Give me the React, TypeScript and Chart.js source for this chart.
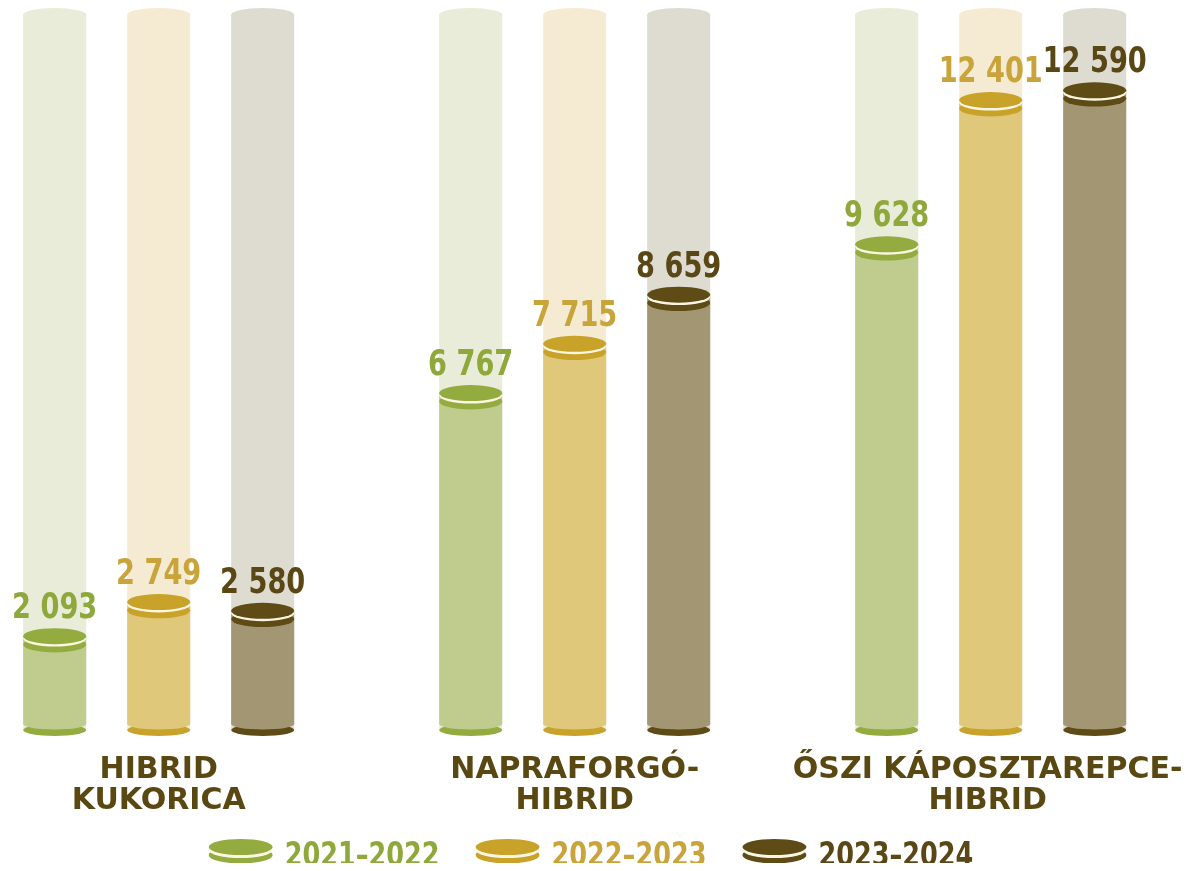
import React, { useEffect, useRef } from 'react';
import { Chart, registerables } from 'chart.js';

Chart.register(...registerables);

// ---------- data ----------
const categories: string[][] = [
  ['HIBRID', 'KUKORICA'],
  ['NAPRAFORGÓ-', 'HIBRID'],
  ['ŐSZI KÁPOSZTAREPCE-', 'HIBRID'],
];
const seasons = ['2021–2022', '2022–2023', '2023–2024'];
const values2122 = [2093, 6767, 9628];
const values2223 = [2749, 7715, 12401];
const values2324 = [2580, 8659, 12590];
const Y_MIN = 288;
const Y_MAX = 14038;

// ---------- styles ----------
const topColors = ['#94ab3f', '#c9a22a', '#5e4b16'];
const bodyColors = ['#bfcc8e', '#e0c87b', '#a39673'];
const bgColors = ['#e8ecd9', '#f4ebd2', '#dedbd0'];
const textColors = ['#8fa83c', '#c9a43a', '#5a4716'];
const creamColor = '#fbf6e2';
const catColor = '#5a4812';
const COND = '"DejaVu Sans Condensed", "DejaVu Sans", sans-serif';
const WIDE = '"DejaVu Sans", sans-serif';

const fmt = (v: number) => String(v).replace(/\B(?=(\d{3})+(?!\d))/g, ' ');

function ellipse(ctx: CanvasRenderingContext2D, cx: number, cy: number, rx: number, ry: number, color: string) {
  ctx.beginPath();
  ctx.ellipse(cx, cy, rx, ry, 0, 0, Math.PI * 2);
  ctx.fillStyle = color;
  ctx.fill();
}

function scaledText(ctx: CanvasRenderingContext2D, text: string, x: number, y: number, sx: number) {
  ctx.save();
  ctx.translate(x, y);
  ctx.scale(sx, 1);
  ctx.fillText(text, 0, 0);
  ctx.restore();
}

const VALUE_SX = 0.84;
const LEGEND_SX = 0.86;

const cylinderPlugin = {
  id: 'cylinders',
  afterDatasetsDraw(chart: any) {
    const ctx: CanvasRenderingContext2D = chart.ctx;
    const yScale = chart.scales.y;
    const xScale = chart.scales.x;
    const bottom = yScale.getPixelForValue(Y_MIN);
    const top = yScale.getPixelForValue(Y_MAX);
    ctx.save();
    chart.data.datasets.forEach((ds: any, di: number) => {
      const meta = chart.getDatasetMeta(di);
      meta.data.forEach((el: any, i: number) => {
        const { x, y, width } = el.getProps(['x', 'y', 'width'], true);
        const rx = width / 2;
        const l = x - rx;
        // background cylinder
        ctx.fillStyle = bgColors[di];
        ctx.fillRect(l, top, width, bottom - top);
        ellipse(ctx, x, top, rx, 7, bgColors[di]);
        // bottom rim
        ellipse(ctx, x, bottom, rx, 6, topColors[di]);
        // body
        ctx.fillStyle = bodyColors[di];
        ctx.fillRect(l, y, width, bottom - 6 - y);
        ellipse(ctx, x, bottom - 6, rx, 5.5, bodyColors[di]);
        // top ring
        ellipse(ctx, x, y + 8.3, rx, 8, topColors[di]);
        ellipse(ctx, x, y + 2.4, rx, 8, creamColor);
        ellipse(ctx, x, y, rx, 8, topColors[di]);
        // value label
        ctx.font = `bold 36px ${COND}`;
        ctx.textAlign = 'center';
        ctx.textBaseline = 'alphabetic';
        ctx.fillStyle = textColors[di];
        scaledText(ctx, fmt(ds.data[i]), x, y - 18, VALUE_SX);
      });
    });
    // category labels
    ctx.font = `bold 30px ${WIDE}`;
    ctx.fillStyle = catColor;
    ctx.textAlign = 'center';
    ctx.textBaseline = 'alphabetic';
    categories.forEach((lines, i) => {
      const cx = xScale.getPixelForValue(i) - (i === 2 ? 3 : 0);
      lines.forEach((ln, k) => ctx.fillText(ln, cx, 770 + k * 31));
    });
    // legend
    ctx.font = `bold 33px ${COND}`;
    const markerW = 64;
    const gapText = 12;
    const gapItem = 36;
    const widths = seasons.map((s) => ctx.measureText(s).width * LEGEND_SX);
    const total = widths.reduce((a, w) => a + markerW + gapText + w, 0) + gapItem * (seasons.length - 1);
    let lx = 583 - total / 2;
    const ly = 848;
    ctx.textAlign = 'left';
    ctx.textBaseline = 'middle';
    seasons.forEach((s, i) => {
      const mx = lx + markerW / 2;
      ellipse(ctx, mx, ly - 1, markerW / 2, 8.5, topColors[i]);
      ellipse(ctx, mx, ly - 6, markerW / 2, 8, creamColor);
      ellipse(ctx, mx, ly - 9, markerW / 2, 8, topColors[i]);
      ctx.fillStyle = textColors[i];
      scaledText(ctx, s, lx + markerW + gapText, ly + 1, LEGEND_SX);
      lx += markerW + gapText + widths[i] + gapItem;
    });
    ctx.restore();
  },
};

export default function App() {
  const ref = useRef<HTMLCanvasElement | null>(null);
  useEffect(() => {
    if (!ref.current) return;
    const seriesValues = [values2122, values2223, values2324];
    const chart = new Chart(ref.current, {
      type: 'bar',
      data: {
        labels: categories.map((c) => c.join(' ')),
        datasets: seasons.map((s, i) => ({
          label: s,
          data: seriesValues[i],
          backgroundColor: 'rgba(0,0,0,0)',
          borderWidth: 0,
          categoryPercentage: 0.75,
          barPercentage: 0.606,
        })),
      },
      options: {
        responsive: true,
        maintainAspectRatio: false,
        animation: false,
        layout: { padding: { left: 150.7, right: 194.3, top: 7, bottom: 133 } },
        scales: {
          x: { display: false, offset: false, grid: { display: false } },
          y: { display: false, min: Y_MIN, max: Y_MAX },
        },
        plugins: {
          legend: { display: false },
          tooltip: { enabled: false },
        },
      },
      plugins: [cylinderPlugin],
    });
    return () => chart.destroy();
  }, []);
  return (
    <div style={{ position: 'relative', width: 1177, height: 855 }}>
      <canvas ref={ref} />
    </div>
  );
}
